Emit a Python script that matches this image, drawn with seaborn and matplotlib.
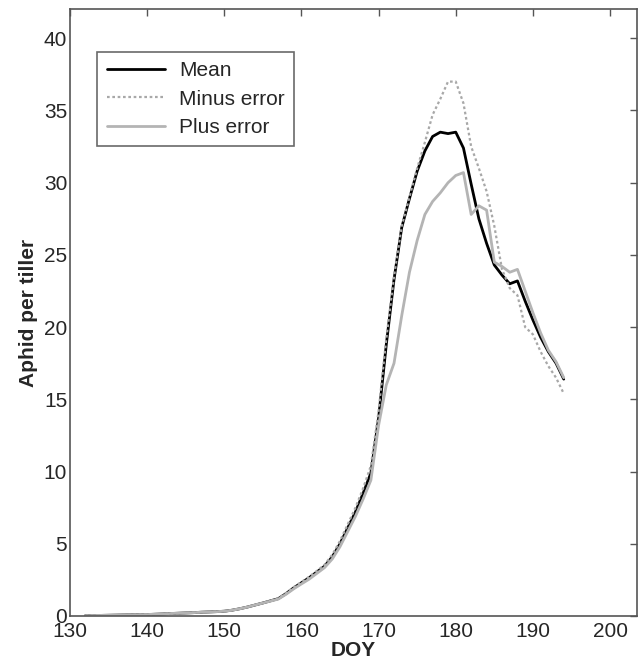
import matplotlib.pyplot as plt
import seaborn as sns
import pandas as pd

# day of year
doy = list(range(132, 195))

mean = [0.02, 0.03, 0.04, 0.05, 0.06, 0.07, 0.08, 0.09, 0.10, 0.12,
        0.14, 0.17, 0.19, 0.21, 0.23, 0.26, 0.28, 0.30, 0.33, 0.40,
        0.50, 0.62, 0.76, 0.90, 1.05, 1.20, 1.55, 1.95, 2.30, 2.65,
        3.05, 3.45, 4.10, 5.00, 6.10, 7.20, 8.50, 9.90, 13.7, 18.8,
        23.3, 26.9, 28.9, 30.8, 32.2, 33.2, 33.5, 33.4, 33.5, 32.4,
        29.9, 27.5, 25.8, 24.3, 23.6, 23.0, 23.2, 21.8, 20.5, 19.3,
        18.3, 17.5, 16.4]

minus_err = [0.02, 0.03, 0.04, 0.05, 0.06, 0.07, 0.08, 0.09, 0.10, 0.12,
             0.14, 0.17, 0.19, 0.21, 0.23, 0.26, 0.28, 0.30, 0.33, 0.40,
             0.50, 0.62, 0.76, 0.90, 1.05, 1.22, 1.58, 2.00, 2.35, 2.72,
             3.12, 3.55, 4.25, 5.20, 6.35, 7.50, 8.85, 10.4, 14.2, 19.2,
             23.5, 27.0, 29.0, 31.0, 32.8, 34.7, 35.8, 37.0, 37.0, 35.5,
             32.5, 31.0, 29.4, 27.0, 24.0, 22.7, 22.2, 20.0, 19.5, 18.3,
             17.3, 16.5, 15.4]

plus_err = [0.02, 0.03, 0.04, 0.05, 0.06, 0.07, 0.08, 0.09, 0.10, 0.12,
            0.14, 0.17, 0.19, 0.21, 0.23, 0.26, 0.28, 0.30, 0.33, 0.40,
            0.50, 0.62, 0.76, 0.90, 1.03, 1.17, 1.50, 1.88, 2.22, 2.55,
            2.95, 3.35, 3.95, 4.80, 5.85, 6.90, 8.10, 9.40, 13.2, 16.0,
            17.5, 20.8, 23.8, 26.0, 27.8, 28.7, 29.3, 30.0, 30.5, 30.7,
            27.8, 28.4, 28.1, 24.5, 24.2, 23.8, 24.0, 22.5, 21.0, 19.6,
            18.4, 17.6, 16.5]

sns.set_theme(style="white")
plt.rcParams['font.family'] = ['Liberation Sans', 'DejaVu Sans']

fig = plt.figure(figsize=(6.38, 6.71), dpi=100)
ax = fig.add_axes([0.1097, 0.082, 0.8888, 0.904])

sns.lineplot(x=doy, y=mean, ax=ax, color="black", linewidth=2, label="Mean")
sns.lineplot(x=doy, y=minus_err, ax=ax, color="#a8a8a8", linewidth=1.6,
             linestyle=(0, (1.2, 1.2)), label="Minus error")
sns.lineplot(x=doy, y=plus_err, ax=ax, color="#b4b4b4", linewidth=2, label="Plus error")

ax.set_xlim(130, 203.5)
ax.set_ylim(0, 42)
ax.set_xticks(range(130, 201, 10))
ax.set_yticks(range(0, 41, 5))
ax.tick_params(direction="in", length=5, width=1, color="#555555",
               top=True, right=True, labelsize=15)
ax.tick_params(axis="x", pad=4)
ax.tick_params(axis="y", pad=2)
for s in ax.spines.values():
    s.set_color("#555555")
    s.set_linewidth(1.2)

ax.set_xlabel("DOY", fontsize=15, fontweight="bold", labelpad=0)
ax.set_ylabel("Aphid per tiller", fontsize=15, fontweight="bold", labelpad=4)

leg = ax.legend(loc="upper left", bbox_to_anchor=(0.048, 0.93), borderaxespad=0,
                fontsize=15, frameon=True, fancybox=False, handlelength=2.8,
                handletextpad=0.7, borderpad=0.45, labelspacing=0.45)
leg.get_frame().set_edgecolor("#444444")
leg.get_frame().set_linewidth(1.2)

plt.savefig("out.png", dpi=100)
